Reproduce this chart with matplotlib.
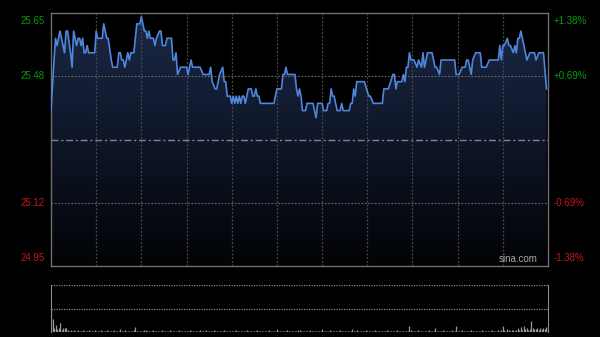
import numpy as np
import matplotlib
matplotlib.use("Agg")
import matplotlib.pyplot as plt
from matplotlib.colors import LinearSegmentedColormap

# intraday trace (minute index, last price)
minutes = [0, 2, 3, 4, 6, 8, 9, 10, 11, 13, 14, 15, 17, 18, 19, 20, 21, 22, 23, 24,
           25, 29, 30, 31, 34, 35, 37, 38, 40, 41, 44, 45, 46, 47, 48, 49, 51, 52, 53, 55,
           57, 59, 60, 61, 62, 63, 64, 65, 66, 68, 69, 70, 72, 73, 74, 76, 77, 80, 81, 82,
           83, 84, 86, 90, 91, 93, 94, 99, 101, 105, 106, 107, 109, 110, 111, 112, 114, 115, 116, 117,
           119, 120, 121, 122, 123, 124, 125, 126, 127, 128, 129, 131, 133, 134, 135, 136, 137, 138, 139, 148,
           150, 153, 154, 155, 156, 157, 162, 163, 164, 165, 166, 167, 169, 170, 174, 175, 176, 177, 180, 181,
           183, 184, 185, 186, 187, 188, 190, 192, 193, 194, 198, 199, 200, 201, 202, 203, 208, 211, 212, 214,
           220, 221, 224, 227, 228, 229, 230, 233, 234, 235, 236, 237, 238, 239, 241, 243, 244, 246, 247, 248,
           250, 253, 255, 256, 258, 259, 265, 268, 269, 271, 273, 275, 276, 277, 279, 280, 282, 285, 286, 289,
           291, 297, 298, 299, 300, 301, 303, 304, 305, 307, 308, 309, 310, 311, 312, 314, 316, 318, 321, 322,
           324, 327, 329]
prices = [25.38, 25.52, 25.58, 25.56, 25.60, 25.56, 25.54, 25.60, 25.60, 25.54, 25.50, 25.60, 25.56, 25.58, 25.58, 25.56, 25.58, 25.54, 25.54, 25.56,
          25.54, 25.54, 25.60, 25.58, 25.58, 25.62, 25.58, 25.58, 25.52, 25.50, 25.50, 25.54, 25.54, 25.52, 25.52, 25.50, 25.54, 25.52, 25.54, 25.54,
          25.62, 25.62, 25.64, 25.62, 25.60, 25.60, 25.58, 25.60, 25.58, 25.58, 25.56, 25.58, 25.60, 25.60, 25.56, 25.56, 25.58, 25.58, 25.52, 25.52,
          25.54, 25.48, 25.50, 25.50, 25.48, 25.52, 25.50, 25.50, 25.48, 25.48, 25.50, 25.46, 25.44, 25.44, 25.46, 25.48, 25.50, 25.46, 25.46, 25.42,
          25.42, 25.40, 25.42, 25.40, 25.42, 25.40, 25.42, 25.40, 25.42, 25.42, 25.40, 25.44, 25.44, 25.42, 25.42, 25.44, 25.42, 25.42, 25.40, 25.40,
          25.44, 25.44, 25.48, 25.48, 25.50, 25.48, 25.48, 25.44, 25.42, 25.44, 25.42, 25.38, 25.38, 25.40, 25.40, 25.38, 25.36, 25.40, 25.40, 25.38,
          25.38, 25.40, 25.40, 25.44, 25.42, 25.42, 25.38, 25.38, 25.40, 25.38, 25.38, 25.40, 25.40, 25.44, 25.42, 25.46, 25.46, 25.42, 25.42, 25.40,
          25.40, 25.44, 25.44, 25.48, 25.48, 25.44, 25.46, 25.46, 25.48, 25.46, 25.50, 25.50, 25.54, 25.52, 25.52, 25.50, 25.52, 25.50, 25.54, 25.50,
          25.54, 25.54, 25.50, 25.50, 25.48, 25.52, 25.52, 25.52, 25.48, 25.48, 25.50, 25.50, 25.52, 25.52, 25.48, 25.52, 25.54, 25.54, 25.50, 25.50,
          25.52, 25.52, 25.56, 25.52, 25.56, 25.56, 25.58, 25.56, 25.56, 25.54, 25.56, 25.54, 25.58, 25.58, 25.60, 25.56, 25.52, 25.54, 25.54, 25.52,
          25.54, 25.54, 25.44]

# per-minute volume (relative units, panel top = 100)
volume = [52, 28, 8, 14, 6, 9, 20, 5, 9, 8, 9, 4, 3, 5, 3, 4, 2, 3, 5, 3, 2, 4, 3, 2, 3, 4, 2, 3, 2, 4,
          3, 2, 3, 4, 2, 3, 2, 5, 3, 2, 3, 2, 4, 3, 2, 3, 6, 3, 2, 4, 3, 2, 3, 2, 3, 4, 10, 3, 2, 3,
          2, 3, 4, 5, 3, 2, 3, 2, 4, 3, 2, 3, 3, 2, 4, 2, 3, 2, 3, 4, 2, 3, 2, 3, 2, 4, 3, 2, 3, 2,
          3, 2, 4, 3, 2, 3, 2, 3, 2, 4, 3, 2, 3, 5, 2, 3, 2, 3, 4, 2, 3, 2, 3, 2, 3, 4, 2, 3, 2, 3,
          2, 3, 2, 4, 3, 2, 3, 2, 3, 2, 4, 2, 3, 2, 3, 2, 3, 4, 2, 3, 2, 3, 2, 3, 2, 4, 3, 2, 3, 2,
          6, 3, 2, 3, 2, 3, 2, 4, 3, 2, 3, 2, 3, 2, 4, 5, 2, 3, 2, 3, 2, 3, 4, 2, 3, 2, 3, 2, 3, 2,
          6, 3, 2, 3, 2, 4, 3, 2, 3, 2, 3, 2, 4, 3, 2, 3, 2, 3, 2, 3, 7, 3, 2, 4, 3, 2, 3, 2, 3, 4,
          2, 3, 2, 3, 2, 4, 3, 2, 3, 2, 3, 2, 3, 4, 2, 3, 2, 3, 2, 3, 4, 2, 3, 2, 3, 2, 3, 2, 12, 4,
          3, 2, 3, 2, 4, 3, 2, 3, 2, 3, 2, 4, 3, 2, 3, 8, 3, 2, 3, 2, 4, 3, 2, 3, 2, 3, 4, 2, 3, 12,
          3, 2, 3, 4, 2, 3, 2, 3, 2, 4, 3, 2, 3, 2, 3, 2, 4, 3, 2, 3, 2, 3, 2, 4, 3, 2, 3, 4, 3, 5,
          13, 4, 3, 6, 4, 3, 5, 4, 3, 5, 8, 4, 10, 5, 12, 6, 9, 5, 7, 24, 9, 6, 7, 9, 5, 8, 6, 9, 7, 10, 8]

prev_close = 25.30
price_levels = [25.65, 25.475, 25.125, 24.95]
left_labels = ["25.65", "25.48", "25.12", "24.95"]
right_labels = ["+1.38%", "+0.69%", "-0.69%", "-1.38%"]

GREEN = "#0c9a0c"
RED = "#c41a1a"
FONT = "Liberation Sans"

fig = plt.figure(figsize=(6, 3.37), dpi=100, facecolor="black")
ax = fig.add_axes([51 / 600, 1 - 266 / 337, 497 / 600, 253 / 337])
vax = fig.add_axes([51 / 600, 1 - 332 / 337, 497 / 600, 47 / 337])

ax.set_facecolor("black")
ax.set_xlim(0, 330)
ax.set_ylim(24.95, 25.65)

# gradient fill under the price line
cmap = LinearSegmentedColormap.from_list("fill", ["#020305", "#0e1628", "#1b2947"])
grad = np.linspace(0, 1, 256).reshape(-1, 1)
img = ax.imshow(grad, cmap=cmap, origin="lower", aspect="auto",
                extent=[0, 330, 24.95, 25.65], zorder=1)
poly = ax.fill_between(minutes, prices, 24.95, color="none", lw=0)
img.set_clip_path(poly.get_paths()[0], transform=ax.transData)

# grid
for m in range(30, 330, 30):
    ax.axvline(m, color="#4a4a4a", lw=0.9, ls=(0, (1.5, 1.5)), zorder=2)
for lv in [25.475, 25.125]:
    ax.axhline(lv, color="#6a6a6a", lw=0.8, ls=(0, (1.5, 1.5)), zorder=2)
ax.axhline(prev_close, color="#7d8590", lw=1.0, ls=(0, (5, 2, 1.5, 2)), zorder=2)

ax.plot(minutes, prices, color="#4f86dc", lw=1.2, zorder=3)

for s in ax.spines.values():
    s.set_color("#6e6e6e")
    s.set_linewidth(1.0)
ax.set_xticks([])
ax.set_yticks([])

# price / percent labels on both sides
for i, (lv, lt, rt) in enumerate(zip(price_levels, left_labels, right_labels)):
    col = GREEN if i < 2 else RED
    y = lv
    if i == 0:
        y = lv - 0.022
    elif i == 3:
        y = lv + 0.022
    ax.text(-4, y, lt, color=col, fontsize=7, family=FONT, ha="right", va="center",
            clip_on=False)
    ax.text(333.5, y, rt, color=col, fontsize=7, family=FONT, ha="left", va="center",
            clip_on=False)

ax.text(323, 24.955, "sina.com", color="#a8a8a8", fontsize=7, family=FONT,
        ha="right", va="bottom", zorder=4)

# volume panel
vax.set_facecolor("black")
vax.set_xlim(0, 330)
vax.set_ylim(0, 100)
vax.vlines(np.arange(len(volume)), 0, volume, color="#9a9a9a", lw=0.9)
vax.axhline(100, color="#8a8a8a", lw=0.9, ls=(0, (1, 1)))
vax.axhline(50, color="#8a8a8a", lw=0.9, ls=(0, (1, 1)))
for k in ["top", "bottom"]:
    vax.spines[k].set_visible(False)
for k in ["left", "right"]:
    vax.spines[k].set_color("#8a8a8a")
vax.set_xticks([])
vax.set_yticks([])

fig.savefig("out.png", dpi=100, facecolor="black")
